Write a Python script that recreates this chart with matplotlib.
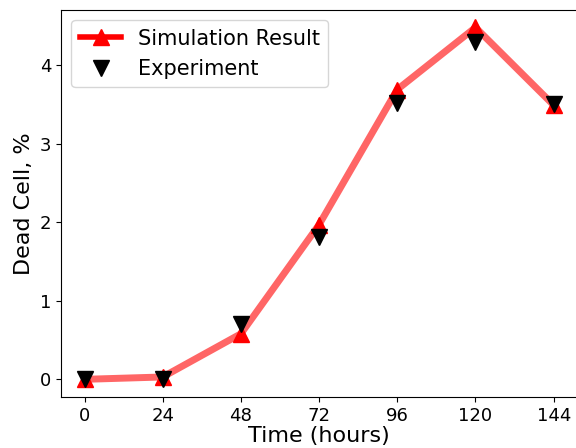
import matplotlib
matplotlib.use("Agg")
import matplotlib.pyplot as plt
from matplotlib.lines import Line2D

# time points (hours) and dead cell percentages
hours = [0, 24, 48, 72, 96, 120, 144]
sim_dead = [0.0, 0.03, 0.58, 1.97, 3.69, 4.48, 3.49]
exp_dead = [0.0, 0.0, 0.70, 1.81, 3.52, 4.30, 3.51]

fig = plt.figure(figsize=(5.76, 4.48), dpi=100)
ax = fig.add_axes([0.106, 0.114, 0.896, 0.864])

ax.plot(hours, sim_dead, color='red', alpha=0.6, linewidth=5)
ax.plot(hours, sim_dead, linestyle='none', marker='^', color='red', markersize=12)
ax.plot(hours, exp_dead, linestyle='none', marker='v', color='black', markersize=12)

handles = [
    Line2D([], [], color='red', marker='^', linewidth=4, markersize=12),
    Line2D([], [], color='black', marker='v', linestyle='none', markersize=12),
]
ax.legend(handles, ['Simulation Result', 'Experiment'], fontsize=15, loc='upper left')

ax.set_xticks(hours)
ax.set_yticks([0, 1, 2, 3, 4])
ax.tick_params(labelsize=13)
ax.set_xlabel('Time (hours)', fontsize=16, labelpad=1)
ax.set_ylabel('Dead Cell, %', fontsize=16)

fig.savefig('out.png', dpi=100)
